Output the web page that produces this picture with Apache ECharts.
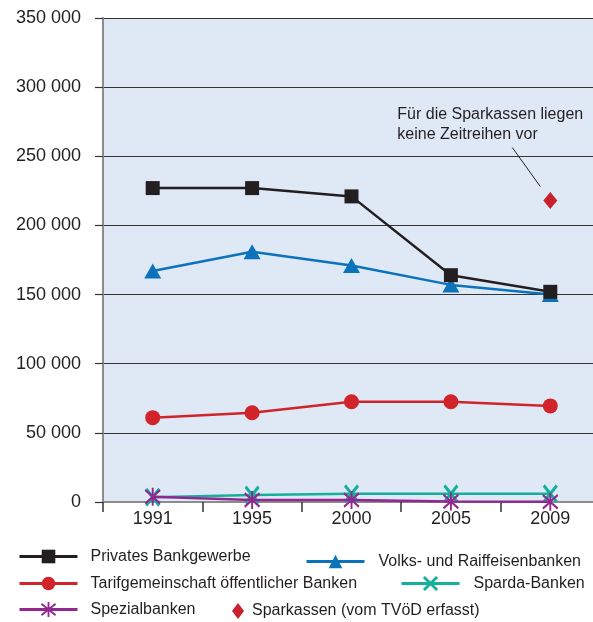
<!DOCTYPE html>
<html>
<head>
<meta charset="utf-8">
<script src="https://cdn.jsdelivr.net/npm/echarts@6/dist/echarts.min.js"></script>
<style>html,body{margin:0;padding:0;background:#fff}#c{width:593px;height:622px}</style>
</head>
<body>
<div id="c"></div>
<script>
const years = ['1991', '1995', '2000', '2005', '2009'];
const privates = [227000, 227000, 221000, 164000, 152000];
const volks = [167000, 181000, 171000, 157000, 150000];
const tarif = [61000, 64500, 72500, 72500, 69500];
const sparda = [3500, 5000, 6000, 6000, 6000];
const spezial = [3800, 1500, 1500, 300, 200];
const sparkassen = [null, null, null, null, 218000];
const yMin = 0, yMax = 350000, yStep = 50000;
const names = ['Privates Bankgewerbe', 'Volks- und Raiffeisenbanken', 'Tarifgemeinschaft öffentlicher Banken', 'Sparda-Banken', 'Spezialbanken', 'Sparkassen (vom TVöD erfasst)'];
const note = ['Für die Sparkassen liegen', 'keine Zeitreihen vor'];

const FONT = 'Liberation Sans, Arial, sans-serif';
const TXT = '#231f20';
const xSym = 'path://M0,2.6L2.6,0L10,7.4L17.4,0L20,2.6L12.6,10L20,17.4L17.4,20L10,12.6L2.6,20L0,17.4L7.4,10Z';
const starSym = 'path://M8.8,0L11.2,0L11.2,20L8.8,20Z M0,3.6L1.4,1.4L10,8.4L18.6,1.4L20,3.6L11.6,10L20,16.4L18.6,18.6L10,11.6L1.4,18.6L0,16.4L8.4,10Z';

function fmt(v) { return String(v).replace(/\B(?=(\d{3})+(?!\d))/g, ' '); }

const chart = echarts.init(document.getElementById('c'), null, {renderer: 'canvas'});
function lineSeries(name, data, color, symbol, size, z) {
  return {
    name: name, type: 'line', data: data, symbol: symbol, symbolSize: size,
    showAllSymbol: true, z: z,
    lineStyle: {color: color, width: 2.5},
    itemStyle: {color: color},
    emphasis: {disabled: true}
  };
}
function legendAt(name, left, top, w, h, gap) {
  return {
    data: [name], left: left, top: top, itemWidth: w, itemHeight: h, padding: 0,
    lineStyle: {width: 3},
    textStyle: {fontFamily: FONT, fontSize: 16, color: TXT, padding: [0, 0, 0, gap]},
    selectedMode: false
  };
}

chart.setOption({
  animation: false,
  grid: {left: 103, top: 18, width: 497, height: 484, show: true, backgroundColor: '#dfe9f5', borderWidth: 0, outerBoundsMode: 'none', containLabel: false},
  legend: [
    legendAt(names[0], 18, 548.5, 58, 17, 8),
    legendAt(names[1], 305, 553.5, 58, 17, 9),
    legendAt(names[2], 18, 575.5, 58, 17, 8),
    legendAt(names[3], 400, 575.5, 58, 19, 9),
    legendAt(names[4], 18, 601.5, 58, 19, 8),
    legendAt(names[5], 232, 603, 12, 16, 3)
  ],
  xAxis: {
    type: 'category', data: years, boundaryGap: true,
    axisLine: {lineStyle: {color: '#8c8c8c', width: 2}},
    axisTick: {show: true, length: 10, lineStyle: {color: '#333', width: 1.5}},
    axisLabel: {fontFamily: FONT, fontSize: 18, color: TXT, margin: 8}
  },
  yAxis: {
    type: 'value', min: yMin, max: yMax, interval: yStep,
    axisLine: {show: true, lineStyle: {color: '#8c8c8c', width: 2}},
    axisTick: {show: true, length: 8, lineStyle: {color: '#333', width: 1.2}},
    splitLine: {lineStyle: {color: '#333', width: 1.2}},
    axisLabel: {fontFamily: FONT, fontSize: 18, color: TXT, margin: 22, formatter: fmt}
  },
  series: [
    lineSeries(names[0], privates, '#231f20', 'rect', 14, 5),
    lineSeries(names[1], volks, '#0b72bb', 'triangle', [17, 15], 4),
    lineSeries(names[2], tarif, '#d0232a', 'circle', 15, 3),
    lineSeries(names[3], sparda, '#14b09c', xSym, [15, 19], 2),
    lineSeries(names[4], spezial, '#92278f', starSym, [16, 18], 3),
    {name: names[5], type: 'scatter', data: sparkassen, symbol: 'diamond', symbolSize: [14, 17],
     itemStyle: {color: '#c9202b', opacity: 1}, emphasis: {disabled: true}, z: 6}
  ]
});

const p = chart.convertToPixel({xAxisIndex: 0, yAxisIndex: 0}, [4, sparkassen[4]]);
chart.setOption({
  graphic: [
    {type: 'text', left: p[0] - 153, top: p[1] - 96,
     style: {text: note.join('\n'), fontFamily: FONT, fontSize: 16, lineHeight: 20, fill: TXT}},
    {type: 'line', shape: {x1: p[0] - 38, y1: p[1] - 53, x2: p[0] - 10, y2: p[1] - 14},
     style: {stroke: '#231f20', lineWidth: 1}}
  ]
});
</script>
</body>
</html>
